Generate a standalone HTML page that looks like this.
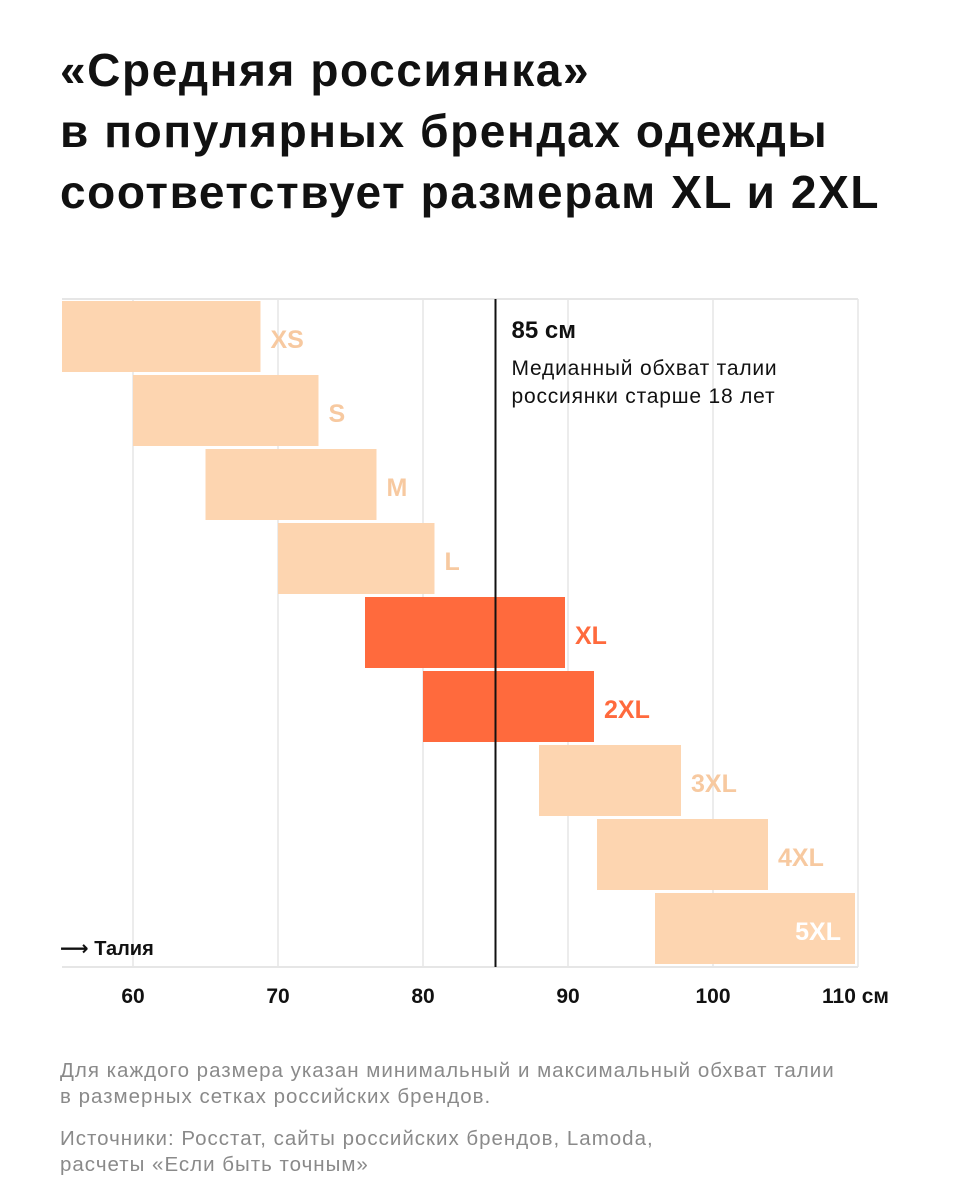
<!DOCTYPE html>
<html><head><meta charset="utf-8"><style>
body{margin:0;background:#fff;width:955px;height:1200px;overflow:hidden;font-family:"Liberation Sans","DejaVu Sans",sans-serif}
h1{position:absolute;left:60px;top:40px;margin:0;font-size:46px;line-height:61px;font-weight:bold;color:#111;letter-spacing:1.6px}
.note{position:absolute;left:60px;font-size:20.5px;line-height:26px;color:#8a8a8a;letter-spacing:1px}
</style></head><body>
<h1>«Средняя россиянка»<br>в популярных брендах одежды<br>соответствует размерам XL и 2XL</h1>
<svg id="chart" width="955" height="1040" style="position:absolute;left:0;top:0"></svg>
<div class="note" style="top:1058px">Для каждого размера указан минимальный и максимальный обхват талии<br>в размерных сетках российских брендов.</div>
<div class="note" style="top:1126px">Источники: Росстат, сайты российских брендов, Lamoda,<br>расчеты «Если быть точным»</div>
<script>
const sizes=["XS","S","M","L","XL","2XL","3XL","4XL","5XL"];
const minWaist=[55,60,65,70,76,80,88,92,96];
const maxWaist=[69,73,77,81,90,92,98,104,110];
const highlight=[false,false,false,false,true,true,false,false,false];
const ticks=[60,70,80,90,100,110];
const median=85;
const NS="http://www.w3.org/2000/svg";
const svg=document.getElementById('chart');
const x=v=>133+(v-60)*14.5;
const y=i=>301+i*74;
function mk(t,a,p){const e=document.createElementNS(NS,t);for(const k in a)e.setAttribute(k,a[k]);(p||svg).appendChild(e);return e;}
const L=62,R=858,T=299,B=967;
ticks.forEach(t=>{
 const g=mk('line',{x1:x(t),x2:x(t),y1:T,y2:B,stroke:'#e6e6e6','stroke-width':1.5});
 
 
 const tx=mk('text',{x:x(t),y:1003,'text-anchor':'middle','font-size':21,'font-weight':'bold',fill:'#111'});
 tx.textContent=t===110?'110 см':t;
 if(t===110){tx.setAttribute('x',x(t)-36);tx.setAttribute('text-anchor','start');}
 
 
});
mk('line',{x1:L,x2:R,y1:T,y2:T,stroke:'#e6e6e6','stroke-width':2});
mk('line',{x1:L,x2:R,y1:B,y2:B,stroke:'#e6e6e6','stroke-width':2});
sizes.forEach((s,i)=>{
 const x0=Math.max(x(minWaist[i]),L),x1=x(maxWaist[i])-3;
 const r=mk('rect',{x:x0,y:y(i),width:x1-x0,height:71,fill:highlight[i]?'#ff6a3d':'#fdd5b0'});
 
 
 const inside=i===sizes.length-1;
 const t=mk('text',{x:inside?x1-14:x1+10,y:y(i)+47,'text-anchor':inside?'end':'start','font-size':25,'font-weight':'bold',fill:inside?'#fff':(highlight[i]?'#ff6a3d':'#f7c9a0')});
 t.textContent=s;
 
 
});
const ml=mk('line',{x1:x(median),x2:x(median),y1:T,y2:B,stroke:'#111','stroke-width':2});


const m1=mk('text',{x:x(median)+16,y:338,'font-size':24,'font-weight':'bold',fill:'#111'});m1.textContent=median+' см';


const m2=mk('text',{x:x(median)+16,y:375,'font-size':21,'letter-spacing':'0.8',fill:'#111'});m2.textContent='Медианный обхват талии';


const m3=mk('text',{x:x(median)+16,y:403,'font-size':21,'letter-spacing':'0.8',fill:'#111'});m3.textContent='россиянки старше 18 лет';


const al=mk('text',{x:60,y:955,'font-size':20,'font-weight':'bold',fill:'#111'});al.textContent='⟶ Талия';


</script>
</body></html>
